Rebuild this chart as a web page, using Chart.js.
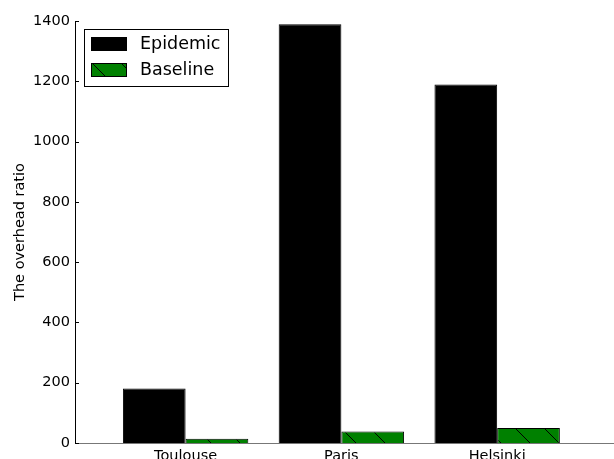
<!DOCTYPE html>
<html>
<head>
<meta charset="utf-8">
<script src="https://cdn.jsdelivr.net/npm/chart.js@4/dist/chart.umd.min.js"></script>
<style>
  html, body { margin: 0; padding: 0; background: #fff; overflow: hidden; }
  #wrap { position: relative; width: 614px; height: 480px; }
</style>
</head>
<body>
<div id="wrap"><canvas id="c" width="614" height="480"></canvas></div>
<script>
// Overhead ratio per city
const categories = ['Toulouse', 'Paris', 'Helsinki'];
const epidemicValues = [181, 1389, 1189];
const baselineValues = [14, 38, 50];
const yTicks = [0, 200, 400, 600, 800, 1000, 1200, 1400];

const FONT = '"DejaVu Sans", sans-serif';
const GREEN = '#008000';

// Diagonal "\" hatch used for the baseline bars
function makeHatch(size) {
  const t = document.createElement('canvas');
  t.width = size; t.height = size;
  const g = t.getContext('2d');
  g.fillStyle = GREEN;
  g.fillRect(0, 0, size, size);
  g.strokeStyle = '#000';
  g.lineWidth = 1;
  g.beginPath();
  g.moveTo(-2, -2); g.lineTo(size + 2, size + 2);
  g.moveTo(-size - 2, -2); g.lineTo(2, size + 2);
  g.moveTo(size - 2, -2); g.lineTo(2 * size + 2, size + 2);
  g.stroke();
  return document.getElementById('c').getContext('2d').createPattern(t, 'repeat');
}
const hatch = makeHatch(29);

// Inward tick marks on the left axis
const inwardTicks = {
  id: 'inwardTicks',
  afterDraw(chart) {
    const { ctx, scales: { y }, chartArea } = chart;
    ctx.save();
    ctx.strokeStyle = '#000';
    ctx.lineWidth = 1;
    yTicks.forEach(v => {
      const py = Math.round(y.getPixelForValue(v)) + 0.5;
      ctx.beginPath();
      ctx.moveTo(chartArea.left, py);
      ctx.lineTo(chartArea.left + 4, py);
      ctx.stroke();
    });
    ctx.restore();
  }
};

// Boxed legend in the upper-left corner of the plot
const boxLegend = {
  id: 'boxLegend',
  afterDraw(chart) {
    const { ctx } = chart;
    const x0 = 84.5, y0 = 29.5, w = 144, h = 57;
    ctx.save();
    ctx.fillStyle = '#fff';
    ctx.fillRect(x0, y0, w, h);
    ctx.strokeStyle = '#000';
    ctx.lineWidth = 1;
    ctx.strokeRect(x0, y0, w, h);
    chart.data.datasets.forEach((ds, i) => {
      const py = 37 + i * 26;
      ctx.fillStyle = ds.backgroundColor;
      ctx.fillRect(91, py, 36, 14);
      ctx.strokeStyle = '#000';
      ctx.strokeRect(91.5, py + 0.5, 35, 13);
      ctx.fillStyle = '#000';
      ctx.font = '17.5px ' + FONT;
      ctx.textBaseline = 'middle';
      ctx.textAlign = 'left';
      ctx.fillText(ds.label, 140, py + 7);
    });
    ctx.restore();
  }
};

new Chart(document.getElementById('c'), {
  type: 'bar',
  data: {
    datasets: [
      {
        label: 'Epidemic',
        data: epidemicValues.map((v, i) => ({ x: i, y: v })),
        backgroundColor: '#000',
        borderColor: '#000',
        borderWidth: 1
      },
      {
        label: 'Baseline',
        data: baselineValues.map((v, i) => ({ x: i, y: v })),
        backgroundColor: hatch,
        borderColor: '#000',
        borderWidth: 1
      }
    ]
  },
  options: {
    responsive: false,
    animation: false,
    events: [],
    barPercentage: 1,
    categoryPercentage: 0.805,
    layout: { padding: { top: 21, right: 0, left: 0, bottom: 0 } },
    plugins: { legend: { display: false }, tooltip: { enabled: false } },
    scales: {
      x: {
        type: 'linear',
        min: -0.71,
        max: 2.75,
        offset: false,
        afterBuildTicks(scale) {
          scale.ticks = categories.map((c, i) => ({ value: i }));
        },
        afterFit(scale) { scale.height = 37; },
        ticks: {
          callback: v => categories[v],
          color: '#000',
          font: { family: FONT, size: 14.5 },
          padding: 5,
          maxRotation: 0,
          autoSkip: false
        },
        grid: { display: false, drawTicks: false },
        border: { display: true, color: '#777', width: 1 }
      },
      y: {
        min: 0,
        max: 1400,
        afterBuildTicks(scale) {
          scale.ticks = yTicks.map(v => ({ value: v }));
        },
        afterFit(scale) { scale.width = 75; },
        ticks: {
          callback: v => String(v),
          color: '#000',
          font: { family: FONT, size: 14.5 },
          padding: 5
        },
        grid: { display: false, drawTicks: false },
        border: { display: true, color: '#000', width: 1 },
        title: {
          display: true,
          text: 'The overhead ratio',
          color: '#000',
          font: { family: FONT, size: 14.5 },
          padding: { top: 12, bottom: 0 }
        }
      }
    }
  },
  plugins: [inwardTicks, boxLegend]
});
</script>
</body>
</html>
